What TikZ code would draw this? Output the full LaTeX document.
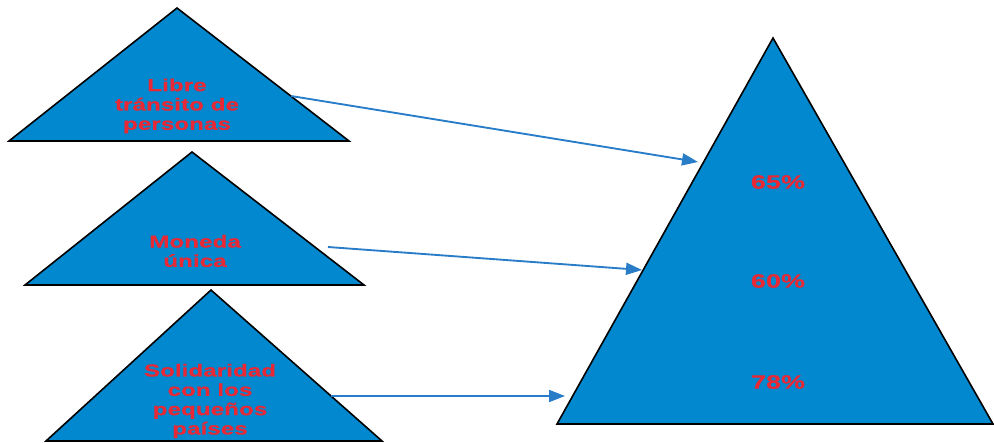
\documentclass[tikz,border=0pt]{standalone}
\usepackage{fontspec}
\setmainfont{Liberation Sans}[FakeStretch=1.4,BoldFeatures={FakeBold=0.4}]
\usetikzlibrary{arrows.meta}
\definecolor{tri}{RGB}{2,136,206}
\definecolor{txt}{RGB}{232,40,52}
\definecolor{arr}{RGB}{40,124,200}
\tikzset{
  tribox/.style={fill=tri,draw=black,line width=1.2pt,line join=miter},
  lab/.style={text=txt,font=\bfseries\fontsize{13}{14.5}\selectfont,align=center,inner sep=0pt},
  pct/.style={text=txt,font=\bfseries\fontsize{14.5}{16}\selectfont,inner sep=0pt},
  conn/.style={draw=arr,line width=1.4pt,-{Triangle[length=12pt,width=9pt]}}
}
\begin{document}
\begin{tikzpicture}[x=0.75pt,y=-0.75pt]
\useasboundingbox (0,0) rectangle (994,442);
% triangles
\draw[tribox] (177,8) -- (349,141) -- (9,141) -- cycle;
\draw[tribox] (192,152) -- (364,285) -- (25,285) -- cycle;
\draw[tribox] (211,290) -- (382,441) -- (46,441) -- cycle;
\draw[tribox] (773,38) -- (993,424) -- (557,424) -- cycle;
% labels
\node[lab] (t1) at (177,106) {Libre\\tránsito de\\personas};
\node[lab] (t2) at (195,251) {Moneda\\única};
\node[lab] (t3) at (210,401) {Solidaridad\\con los\\pequeños\\países};
\node[pct] (p1) at (778,182) {65\%};
\node[pct] (p2) at (778,281) {60\%};
\node[pct] (p3) at (778,382) {78\%};
% connector endpoints
\coordinate (s1) at (291,96);
\coordinate (e1) at (698,162);
\coordinate (s2) at (328,247);
\coordinate (e2) at (642,270);
\coordinate (s3) at (331,396);
\coordinate (e3) at (565,396);
\draw[conn] (s1) -- (e1);
\draw[conn] (s2) -- (e2);
\draw[conn] (s3) -- (e3);
\end{tikzpicture}
\end{document}
